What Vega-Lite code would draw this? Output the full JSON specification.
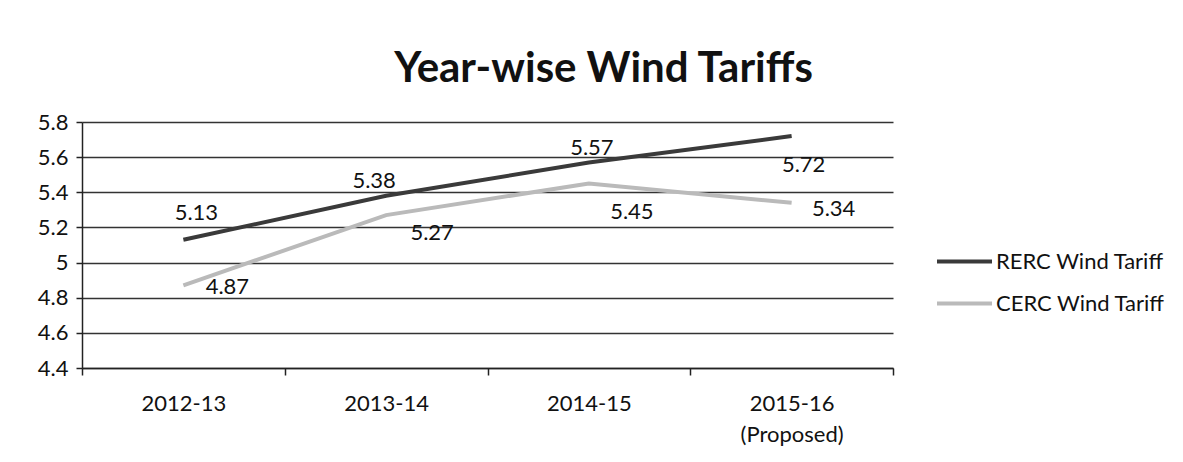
{
  "$schema": "https://vega.github.io/schema/vega-lite/v6.json",
  "width": 811,
  "height": 246,
  "autosize": {"type": "none"},
  "padding": {"left": 82, "top": 122, "right": 290, "bottom": 94},
  "background": "white",
  "title": {"text": "Year-wise Wind Tariffs", "font": "Lato", "fontSize": 42, "fontWeight": "bold", "color": "#111111", "dx": 116, "offset": 20},
  "data": {"values": [
    {"year": "2012-13", "series": "RERC Wind Tariff", "value": 5.13},
    {"year": "2013-14", "series": "RERC Wind Tariff", "value": 5.38},
    {"year": "2014-15", "series": "RERC Wind Tariff", "value": 5.57},
    {"year": "2015-16 (Proposed)", "series": "RERC Wind Tariff", "value": 5.72},
    {"year": "2012-13", "series": "CERC Wind Tariff", "value": 4.87},
    {"year": "2013-14", "series": "CERC Wind Tariff", "value": 5.27},
    {"year": "2014-15", "series": "CERC Wind Tariff", "value": 5.45},
    {"year": "2015-16 (Proposed)", "series": "CERC Wind Tariff", "value": 5.34}
  ]},
  "encoding": {
    "x": {
      "field": "year", "type": "ordinal",
      "sort": ["2012-13", "2013-14", "2014-15", "2015-16 (Proposed)"],
      "bandPosition": 0.5,
      "scale": {"type": "band", "paddingInner": 0, "paddingOuter": 0},
      "axis": {
        "title": null, "labelAngle": 0, "tickBand": "extent", "tickSize": 7, "grid": false,
        "domainColor": "#222222", "domainWidth": 1.5, "tickColor": "#222222", "tickWidth": 1.5,
        "labelFont": "Lato", "labelFontSize": 22, "labelColor": "#111111", "labelPadding": 18, "labelLineHeight": 31,
        "labelExpr": "datum.label == '2015-16 (Proposed)' ? ['2015-16', '(Proposed)'] : datum.label"
      }
    },
    "y": {
      "field": "value", "type": "quantitative",
      "scale": {"domain": [4.4, 5.8], "nice": false, "zero": false},
      "axis": {
        "title": null, "values": [4.4, 4.6, 4.8, 5, 5.2, 5.4, 5.6, 5.8], "format": "~g",
        "domainColor": "#222222", "domainWidth": 1.5, "tickColor": "#222222", "tickWidth": 1.5, "tickSize": 6,
        "gridColor": "#333333", "gridWidth": 1.5,
        "labelFont": "Lato", "labelFontSize": 22, "labelColor": "#111111", "labelPadding": 8
      }
    }
  },
  "layer": [
    {
      "mark": {"type": "line", "strokeWidth": 4},
      "encoding": {
        "color": {
          "field": "series", "type": "nominal",
          "scale": {"domain": ["RERC Wind Tariff", "CERC Wind Tariff"], "range": ["#3a3a3a", "#bababa"]},
          "legend": {
            "title": null, "orient": "none", "legendX": 853, "legendY": 110,
            "symbolType": "stroke", "symbolSize": 3025, "symbolStrokeWidth": 4,
            "labelFont": "Lato", "labelFontSize": 22, "labelColor": "#111111", "labelOffset": 2, "rowPadding": 1,
            "labelLimit": 300
          }
        }
      }
    },
    {"transform": [{"filter": "datum.series == 'RERC Wind Tariff' && datum.year == '2012-13'"}],
     "mark": {"type": "text", "font": "Lato", "fontSize": 22, "color": "#111111", "dx": 13, "dy": -27},
     "encoding": {"text": {"field": "value", "type": "quantitative", "format": ".2f"}}},
    {"transform": [{"filter": "datum.series == 'RERC Wind Tariff' && datum.year == '2013-14'"}],
     "mark": {"type": "text", "font": "Lato", "fontSize": 22, "color": "#111111", "dx": -12, "dy": -15},
     "encoding": {"text": {"field": "value", "type": "quantitative", "format": ".2f"}}},
    {"transform": [{"filter": "datum.series == 'RERC Wind Tariff' && datum.year == '2014-15'"}],
     "mark": {"type": "text", "font": "Lato", "fontSize": 22, "color": "#111111", "dx": 3, "dy": -14},
     "encoding": {"text": {"field": "value", "type": "quantitative", "format": ".2f"}}},
    {"transform": [{"filter": "datum.series == 'RERC Wind Tariff' && datum.year == '2015-16 (Proposed)'"}],
     "mark": {"type": "text", "font": "Lato", "fontSize": 22, "color": "#111111", "dx": 12, "dy": 29},
     "encoding": {"text": {"field": "value", "type": "quantitative", "format": ".2f"}}},
    {"transform": [{"filter": "datum.series == 'CERC Wind Tariff' && datum.year == '2012-13'"}],
     "mark": {"type": "text", "font": "Lato", "fontSize": 22, "color": "#111111", "dx": 44, "dy": 2},
     "encoding": {"text": {"field": "value", "type": "quantitative", "format": ".2f"}}},
    {"transform": [{"filter": "datum.series == 'CERC Wind Tariff' && datum.year == '2013-14'"}],
     "mark": {"type": "text", "font": "Lato", "fontSize": 22, "color": "#111111", "dx": 46, "dy": 18},
     "encoding": {"text": {"field": "value", "type": "quantitative", "format": ".2f"}}},
    {"transform": [{"filter": "datum.series == 'CERC Wind Tariff' && datum.year == '2014-15'"}],
     "mark": {"type": "text", "font": "Lato", "fontSize": 22, "color": "#111111", "dx": 43, "dy": 28},
     "encoding": {"text": {"field": "value", "type": "quantitative", "format": ".2f"}}},
    {"transform": [{"filter": "datum.series == 'CERC Wind Tariff' && datum.year == '2015-16 (Proposed)'"}],
     "mark": {"type": "text", "font": "Lato", "fontSize": 22, "color": "#111111", "dx": 42, "dy": 6},
     "encoding": {"text": {"field": "value", "type": "quantitative", "format": ".2f"}}}
  ],
  "config": {"view": {"stroke": null}}
}
